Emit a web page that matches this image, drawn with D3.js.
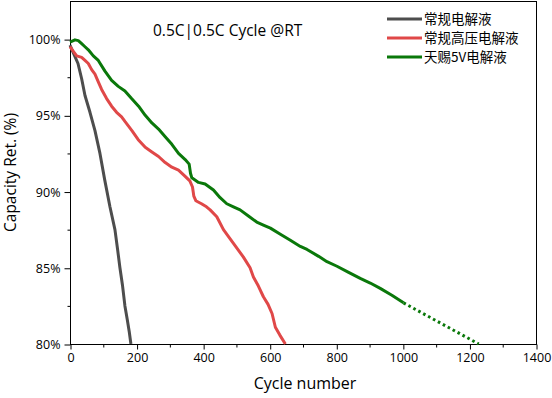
<!DOCTYPE html>
<html>
<head>
<meta charset="utf-8">
<script src="https://cdn.jsdelivr.net/npm/d3@7"></script>
<style>
  body { margin: 0; background: #fff; }
  svg text { font-family: "Open Sans", "Noto Sans", sans-serif; fill: #000; }
  .cjk { font-family: "Noto Sans CJK SC", sans-serif; }
</style>
</head>
<body>
<svg id="chart" width="552" height="398"></svg>
<script>
// series: [cycle, capacity retention %]
const normalData = [[0,99.6],[8,99.2],[24,98.4],[35,97.4],[45,96.3],[60,95.2],[75,94.0],[90,92.5],[104,90.8],[120,89.0],[135,87.5],[143,86.2],[150,85.0],[158,83.8],[165,82.5],[172,81.6],[178,80.8],[183,80.0]]
const highVoltData = [[0,99.5],[10,99.2],[20,98.9],[35,98.8],[45,98.6],[55,98.4],[65,98.0],[75,97.7],[85,97.2],[95,96.7],[110,96.1],[125,95.6],[140,95.2],[155,94.9],[165,94.6],[186,94.0],[205,93.4],[226,92.9],[246,92.6],[266,92.3],[286,91.9],[306,91.6],[326,91.4],[346,91.0],[360,90.7],[368,90.3],[372,89.7],[378,89.4],[395,89.2],[410,89.0],[421,88.8],[441,88.35],[461,87.5],[491,86.6],[521,85.7],[541,85.0],[551,84.4],[566,83.8],[581,83.1],[595,82.6],[607,82.0],[617,81.1],[630,80.6],[647,80.0]]
const tianciData = [[0,99.8],[15,99.95],[25,99.9],[35,99.7],[45,99.5],[55,99.3],[70,98.9],[85,98.6],[105,97.9],[125,97.3],[145,96.9],[165,96.6],[185,96.1],[206,95.6],[226,95.0],[246,94.5],[266,94.1],[286,93.6],[306,93.1],[326,92.5],[346,92.1],[358,91.8],[362,91.2],[366,90.9],[386,90.6],[406,90.5],[431,90.1],[451,89.6],[471,89.2],[491,89.0],[511,88.8],[536,88.4],[561,88.0],[581,87.8],[602,87.6],[632,87.2],[662,86.8],[692,86.4],[712,86.2],[747,85.75],[772,85.4],[802,85.1],[837,84.7],[872,84.3],[902,84.0],[932,83.65],[967,83.2],[1002,82.7]]
const tianciProjection = [[1002,82.7],[1228,80.0]]

const seriesNames = ['常规电解液', '常规高压电解液', '天赐5V电解液']
const seriesColors = ['#4d4d4d', '#e04848', '#0a780a']

const xTicks = [0, 200, 400, 600, 800, 1000, 1200, 1400]
const xMinorTicks = [100, 300, 500, 700, 900, 1100, 1300]
const yTicks = [80, 85, 90, 95, 100]
const yMinorTicks = [82.5, 87.5, 92.5, 97.5]

const titleText = '0.5C|0.5C Cycle @RT'
const xLabel = 'Cycle number'
const yLabel = 'Capacity Ret. (%)'

const svg = d3.select('#chart')
const plot = {left: 70, right: 536, top: 1, bottom: 344}

const x = d3.scaleLinear().domain([0, 1400]).range([plot.left, plot.right])
const y = d3.scaleLinear().domain([80, 102.5]).range([plot.bottom, plot.top])

// frame
svg.append('rect')
    .attr('x', plot.left + 0.5).attr('y', plot.top + 0.5)
    .attr('width', plot.right - plot.left).attr('height', plot.bottom - plot.top)
    .attr('fill', 'none').attr('stroke', '#000').attr('stroke-width', 1)

// axes
const xAxis = svg.append('g')
    .attr('transform', `translate(0.5, ${plot.bottom + 0.5})`)
    .call(d3.axisBottom(x).tickValues(xTicks).tickSize(5).tickPadding(4).tickFormat(d3.format('d')))
xAxis.append('g').selectAll('line').data(xMinorTicks).enter().append('line')
    .attr('x1', d => x(d)).attr('x2', d => x(d)).attr('y1', 0).attr('y2', 3)
    .attr('stroke', '#000')

const yAxis = svg.append('g')
    .attr('transform', `translate(${plot.left + 0.5}, 0.5)`)
    .call(d3.axisLeft(y).tickValues(yTicks).tickSize(6).tickPadding(4).tickFormat(d => d + '%'))
yAxis.append('g').selectAll('line').data(yMinorTicks).enter().append('line')
    .attr('y1', d => y(d)).attr('y2', d => y(d)).attr('x1', 0).attr('x2', -3)
    .attr('stroke', '#000')

svg.selectAll('.domain').remove()
svg.selectAll('.tick text').attr('font-size', 12.5).attr('font-family', '"Open Sans", sans-serif')
svg.selectAll('.tick line').attr('stroke', '#000')

// curves
const line = d3.line().x(d => x(d[0])).y(d => y(d[1]))
const series = [normalData, highVoltData, tianciData]
series.forEach((data, i) => {
    svg.append('path')
        .attr('d', line(data))
        .attr('fill', 'none')
        .attr('stroke', seriesColors[i])
        .attr('stroke-width', 3)
        .attr('stroke-linejoin', 'round')
})
svg.append('path')
    .attr('d', line(tianciProjection))
    .attr('fill', 'none')
    .attr('stroke', seriesColors[2])
    .attr('stroke-width', 3)
    .attr('stroke-dasharray', '2.6,3')

// title + axis labels
svg.append('text').text(titleText)
    .attr('x', 153).attr('y', 36).attr('font-size', 15.5)

svg.append('text').text(xLabel)
    .attr('x', 305).attr('y', 389)
    .attr('text-anchor', 'middle').attr('font-size', 16)

svg.append('text').text(yLabel)
    .attr('transform', `translate(16, ${(plot.top + plot.bottom) / 2}) rotate(-90)`)
    .attr('text-anchor', 'middle').attr('font-size', 15.5)

// legend
const legend = svg.append('g')
seriesNames.forEach((name, i) => {
    const ly = 19 + i * 19
    legend.append('line')
        .attr('x1', 387).attr('x2', 422).attr('y1', ly).attr('y2', ly)
        .attr('stroke', seriesColors[i]).attr('stroke-width', 3)
    legend.append('text').attr('class', 'cjk').text(name)
        .attr('x', 424).attr('y', ly + 5).attr('font-size', 13.5)
})
</script>
</body>
</html>
